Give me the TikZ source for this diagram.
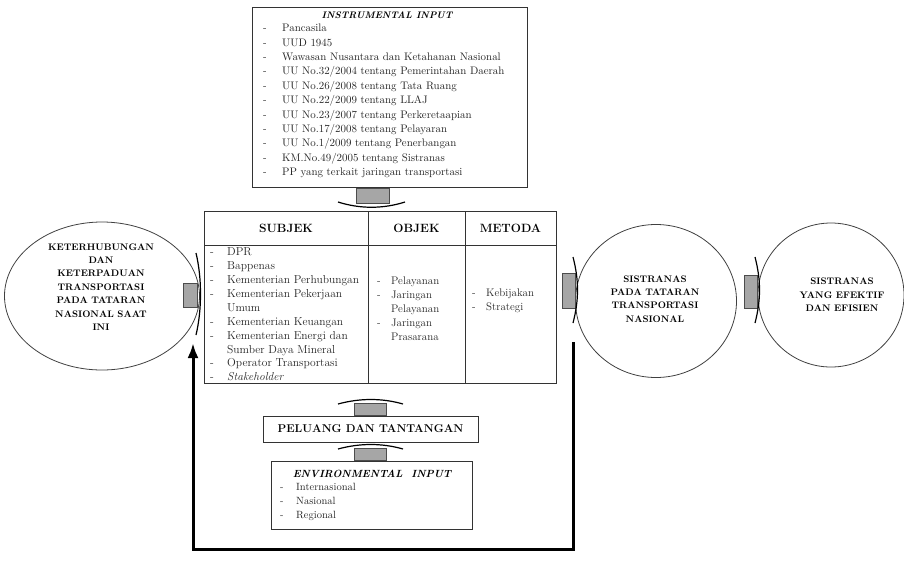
\documentclass[tikz,border=0pt]{standalone}
\usetikzlibrary{positioning,shapes.geometric,arrows.meta}
\newcommand{\itm}[1][18pt]{\makebox[#1][l]{-}}

\begin{document}
\begin{tikzpicture}[x=1pt,y=-1pt,
  box/.style={draw=black!80,line width=0.9pt,inner sep=0pt,outer sep=0pt},
  cell/.style={box,font=\fontsize{12}{14}\selectfont\bfseries},
  lst/.style={anchor=west,align=left,inner sep=0pt,text=black!85,font=\fontsize{10.9}{14.4}\selectfont},
  ring/.style={draw=black!75,line width=0.8pt,ellipse,inner sep=0pt},
  ringtext/.style={align=center,font=\fontsize{9.5}{13.4}\selectfont\bfseries},
  shaft/.style={fill=black!35,draw=black!70,line width=0.6pt},
  tip/.style={draw,line width=1.2pt},
  feedback/.style={line width=3pt,-{Latex[length=15pt,width=11pt]}}]

\useasboundingbox (0,0) rectangle (904,560);

% instrumental input
\node[box,minimum width=275pt,minimum height=180pt] (instr) at (389.5,97) {};
\node[font=\fontsize{9.5}{12}\selectfont\bfseries\itshape] (instrtitle) at (387,15) {INSTRUMENTAL INPUT};
\node[lst] (instrlist) at (263,101) {\itm[19pt]Pancasila\\
  \itm[19pt]UUD 1945\\
  \itm[19pt]Wawasan Nusantara dan Ketahanan Nasional\\
  \itm[19pt]UU No.32/2004 tentang Pemerintahan Daerah\\
  \itm[19pt]UU No.26/2008 tentang Tata Ruang\\
  \itm[19pt]UU No.22/2009 tentang LLAJ\\
  \itm[19pt]UU No.23/2007 tentang Perkeretaapian\\
  \itm[19pt]UU No.17/2008 tentang Pelayaran\\
  \itm[19pt]UU No.1/2009 tentang Penerbangan\\
  \itm[19pt]KM.No.49/2005 tentang Sistranas\\
  \itm[19pt]PP yang terkait jaringan transportasi};

% table
\node[cell,minimum width=164pt,minimum height=34pt] (subjekhead) at (286,228) {SUBJEK};
\node[cell,minimum width=97pt,minimum height=34pt,right=0pt of subjekhead] (objekhead) {OBJEK};
\node[cell,minimum width=91pt,minimum height=34pt,right=0pt of objekhead] (metodahead) {METODA};
\node[box,minimum width=164pt,minimum height=138pt,below=0pt of subjekhead] (subjek) {};
\node[box,minimum width=97pt,minimum height=138pt,below=0pt of objekhead] (objek) {};
\node[box,minimum width=91pt,minimum height=138pt,below=0pt of metodahead] (metoda) {};
\node[lst,font=\fontsize{11.5}{13.9}\selectfont] (subjeklist) at (210,314.5) {\itm[17pt]DPR\\
  \itm[17pt]Bappenas\\
  \itm[17pt]Kementerian Perhubungan\\
  \itm[17pt]Kementerian Pekerjaan\\
  \hspace*{17pt}Umum\\
  \itm[17pt]Kementerian Keuangan\\
  \itm[17pt]Kementerian Energi dan\\
  \hspace*{17pt}Sumber Daya Mineral\\
  \itm[17pt]Operator Transportasi\\
  \itm[17pt]\textit{Stakeholder}};
\node[lst,font=\fontsize{11}{13.9}\selectfont] (objeklist) at (377,308.5) {\itm[14pt]Pelayanan\\
  \itm[14pt]Jaringan\\
  \hspace*{14pt}Pelayanan\\
  \itm[14pt]Jaringan\\
  \hspace*{14pt}Prasarana};
\node[lst,font=\fontsize{11}{13.9}\selectfont] (metodalist) at (472,301) {\itm[14pt]Kebijakan\\
  \itm[14pt]Strategi};

% peluang dan environmental input
\node[cell,font=\fontsize{11.3}{13}\selectfont\bfseries,minimum width=215pt,minimum height=26pt] (peluang) at (370.5,429) {PELUANG DAN TANTANGAN};
\node[box,minimum width=201pt,minimum height=68pt] (env) at (371.5,495) {};
\node[font=\fontsize{10.4}{12}\selectfont\bfseries\itshape] (envtitle) at (372,474) {ENVIRONMENTAL\ \ INPUT};
\node[lst,font=\fontsize{10.5}{14}\selectfont] (envlist) at (280,502) {\itm[16pt]Internasional\\
  \itm[16pt]Nasional\\
  \itm[16pt]Regional};

% kondisi awal dan hasil
\node[ring,minimum width=195pt,minimum height=148pt] (kini) at (102,296) {};
\node[ringtext] (kinitext) at (101,287) {KETERHUBUNGAN\\DAN\\KETERPADUAN\\TRANSPORTASI\\PADA TATARAN\\NASIONAL SAAT\\INI};
\node[ring,minimum width=161pt,minimum height=153pt] (sistranas) at (656,301) {};
\node[ringtext] (sistranastext) at (655,299) {SISTRANAS\\PADA TATARAN\\TRANSPORTASI\\NASIONAL};
\node[ring,minimum width=146pt,minimum height=144pt] (efektif) at (831,295) {};
\node[ringtext] (efektiftext) at (842,295) {SISTRANAS\\YANG EFEKTIF\\DAN EFISIEN};

% block arrows
\draw[shaft] (356,188) rectangle (389,203);
\draw[tip] (338,202) .. controls (360,209) and (383,209) .. (405,202);
\draw[shaft] (354,403) rectangle (386,415);
\draw[tip] (338,404) .. controls (360,398) and (382,398) .. (403,404);
\draw[shaft] (354,448) rectangle (386,460);
\draw[tip] (338,449) .. controls (360,443) and (382,443) .. (403,449);
\draw[shaft] (183,283) rectangle (197,307);
\draw[tip] (196,253) .. controls (202,278) and (202,310) .. (196,335);
\draw[shaft] (562,273) rectangle (575,308);
\draw[tip] (573,257) .. controls (579,280) and (579,300) .. (573,323);
\draw[shaft] (744,275) rectangle (757,308);
\draw[tip] (755,257) .. controls (761,280) and (761,300) .. (755,323);

% umpan balik
\coordinate (fbout) at (573,342);
\coordinate (fbturn) at (573,549);
\coordinate (fbin) at (193,343);
\draw[feedback] (fbout) -- (fbturn) -| (fbin);
\end{tikzpicture}
\end{document}
